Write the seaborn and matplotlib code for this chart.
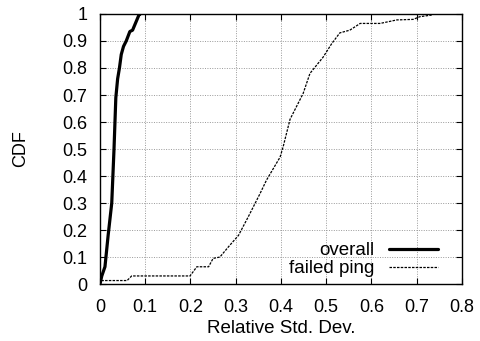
import matplotlib
matplotlib.use("Agg")
import matplotlib.pyplot as plt
import seaborn as sns
import pandas as pd

overall_x = [0.0, 0.004, 0.011, 0.018, 0.026, 0.031, 0.035, 0.039, 0.043, 0.047, 0.052, 0.058, 0.066, 0.072, 0.077, 0.082, 0.087, 0.089]
overall_y = [0.0, 0.03, 0.064, 0.18, 0.30, 0.50, 0.69, 0.76, 0.80, 0.85, 0.88, 0.90, 0.935, 0.94, 0.96, 0.98, 1.0, 1.0]

failed_x = [0.0, 0.003, 0.06, 0.07, 0.10, 0.177, 0.199, 0.214, 0.24, 0.25, 0.265, 0.285, 0.306, 0.328, 0.354, 0.368, 0.398, 0.405, 0.42, 0.449, 0.464, 0.493, 0.512, 0.53, 0.552, 0.575, 0.619, 0.656, 0.692, 0.707, 0.733]
failed_y = [0.0, 0.013, 0.013, 0.03, 0.03, 0.03, 0.03, 0.064, 0.064, 0.095, 0.10, 0.14, 0.18, 0.25, 0.336, 0.385, 0.47, 0.51, 0.61, 0.706, 0.78, 0.84, 0.89, 0.93, 0.94, 0.965, 0.965, 0.978, 0.98, 0.99, 0.996]

x_ticks = [0, 0.1, 0.2, 0.3, 0.4, 0.5, 0.6, 0.7, 0.8]
y_ticks = [0, 0.1, 0.2, 0.3, 0.4, 0.5, 0.6, 0.7, 0.8, 0.9, 1]
x_labels = ["0", "0.1", "0.2", "0.3", "0.4", "0.5", "0.6", "0.7", "0.8"]
y_labels = ["0", "0.1", "0.2", "0.3", "0.4", "0.5", "0.6", "0.7", "0.8", "0.9", "1"]

sns.set_style("ticks")
plt.rcParams['font.family'] = ['Liberation Sans', 'DejaVu Sans']
plt.rcParams['font.size'] = 13
plt.rcParams['text.color'] = 'black'
plt.rcParams['axes.labelcolor'] = 'black'
plt.rcParams['xtick.color'] = 'black'
plt.rcParams['ytick.color'] = 'black'

fig = plt.figure(figsize=(4.8, 3.41), dpi=100)
ax = fig.add_axes([0.2083, 0.167, 0.7542, 0.792])

df1 = pd.DataFrame({"x": overall_x, "y": overall_y})
df2 = pd.DataFrame({"x": failed_x, "y": failed_y})
sns.lineplot(data=df1, x="x", y="y", ax=ax, color="black", linewidth=2.3, label="overall", sort=False)
sns.lineplot(data=df2, x="x", y="y", ax=ax, color="black", linewidth=0.9, linestyle=(0, (2, 1)), label="failed ping", sort=False)

ax.set_xlim(0, 0.8)
ax.set_ylim(0, 1)
ax.set_xticks(x_ticks)
ax.set_xticklabels(x_labels)
ax.set_yticks(y_ticks)
ax.set_yticklabels(y_labels)
ax.grid(True, color="#999999", linestyle=(0, (1, 1.5)), linewidth=0.7)
ax.tick_params(direction="in", top=True, right=True, length=4, color="black", labelcolor="black", labelsize=13)
ax.tick_params(axis="x", pad=10.5)
ax.tick_params(axis="y", pad=9)
for s in ax.spines.values():
    s.set_color("black")
    s.set_linewidth(1.0)
ax.set_xlabel("Relative Std. Dev.", fontsize=13.5, labelpad=3, color="black")
ax.set_ylabel("CDF", fontsize=13, labelpad=24, color="black")

leg = ax.legend(loc="lower right", bbox_to_anchor=(0.934, 0.025), frameon=False, markerfirst=False, fontsize=13.5,
                handlelength=2.6, handletextpad=0.8, labelspacing=0.05, borderaxespad=0, borderpad=0)
for t in leg.get_texts():
    t.set_color("black")

fig.savefig("out.png", dpi=100)
